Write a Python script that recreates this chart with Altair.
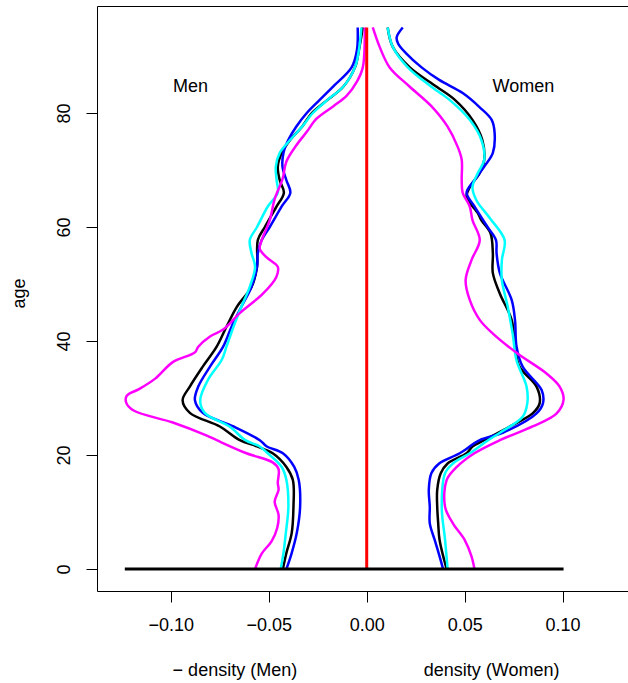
import altair as alt
import pandas as pd

# ---------------- data ----------------
men_black_age = [0, 2.8, 6.3, 10.9, 15.6, 17.9, 20.3, 21.5, 22.6, 25, 27.4, 29.6, 32, 35.5, 39, 42.5, 46, 49.5, 53, 57.7, 60, 63.6, 66, 68.2, 70.6, 73, 75.3, 77.6, 80, 82.3, 84.6, 88, 91, 95]
men_black_val = [-0.0428, -0.041, -0.0383, -0.0374, -0.0377, -0.041, -0.048, -0.056, -0.0648, -0.075, -0.0903, -0.094, -0.0903, -0.0837, -0.0766, -0.0716, -0.0663, -0.0588, -0.056, -0.0556, -0.052, -0.046, -0.0423, -0.0444, -0.0454, -0.0434, -0.039, -0.033, -0.028, -0.020, -0.012, -0.006, -0.004, -0.002]

men_blue_age = [0, 2.8, 6.3, 10.9, 15.6, 17.9, 20.3, 21.5, 22.6, 25, 27.4, 29.6, 32, 35.5, 39, 42.5, 46, 49.5, 53, 55.4, 57.7, 60, 63.6, 66, 68.2, 70.6, 73, 75.3, 77.6, 80, 82.3, 84.6, 88, 91, 95]
men_blue_val = [-0.041, -0.0383, -0.0357, -0.034, -0.0347, -0.037, -0.0428, -0.051, -0.0546, -0.068, -0.0837, -0.0877, -0.086, -0.080, -0.0733, -0.069, -0.064, -0.0588, -0.056, -0.0556, -0.0536, -0.0495, -0.0434, -0.039, -0.041, -0.043, -0.0425, -0.040, -0.036, -0.0306, -0.024, -0.0173, -0.0077, -0.005, -0.0046]

men_cyan_age = [0, 2.8, 6.3, 10.9, 15.6, 17.9, 20.3, 21.5, 22.6, 25, 27.4, 29.6, 33.2, 36.7, 39, 42.5, 46, 49.5, 53, 55.4, 57.7, 60, 63.6, 66, 68.2, 70.6, 73, 75.3, 77.6, 80, 82.3, 84.6, 88, 91, 95]
men_cyan_val = [-0.0439, -0.0425, -0.0413, -0.040, -0.041, -0.0434, -0.0505, -0.0546, -0.062, -0.070, -0.0827, -0.085, -0.081, -0.074, -0.0716, -0.068, -0.064, -0.0597, -0.057, -0.0588, -0.0597, -0.056, -0.0505, -0.0454, -0.046, -0.0464, -0.0444, -0.039, -0.033, -0.0275, -0.020, -0.012, -0.006, -0.004, -0.0027]

men_magenta_age = [0, 2.7, 4.9, 7.2, 9.5, 11.8, 13.9, 15.1, 17.5, 18.7, 20.3, 22.6, 23.4, 25.7, 27.8, 29.2, 30.4, 31.6, 33.4, 36.3, 38, 39, 40.8, 42, 44.9, 48.3, 51.2, 53, 54.7, 56.2, 57.7, 61.2, 64.9, 68.4, 71.5, 74.3, 76.7, 79, 81.2, 83, 85.5, 88, 95]
men_magenta_val = [-0.057, -0.0536, -0.0485, -0.0457, -0.045, -0.047, -0.045, -0.0454, -0.045, -0.048, -0.0614, -0.0766, -0.0816, -0.099, -0.119, -0.1228, -0.1225, -0.116, -0.108, -0.099, -0.0877, -0.086, -0.080, -0.0733, -0.0648, -0.053, -0.0462, -0.0454, -0.0512, -0.0546, -0.0536, -0.0495, -0.047, -0.043, -0.041, -0.036, -0.0306, -0.0256, -0.017, -0.0103, -0.005, -0.002, -0.001]

women_black_age = [0, 5.1, 8, 10.9, 13.9, 16.8, 18.5, 20.3, 21.5, 22.6, 25, 27.3, 29.1, 32, 35.5, 39, 43.7, 48.3, 51.9, 55.4, 58.9, 61.2, 62.4, 65.3, 67, 69.5, 71.8, 75.3, 78.8, 82.3, 84.6, 88, 91.6, 95]
women_black_val = [0.0408, 0.0372, 0.0365, 0.036, 0.036, 0.0378, 0.0413, 0.051, 0.054, 0.060, 0.073, 0.0847, 0.0883, 0.0867, 0.078, 0.0757, 0.074, 0.068, 0.0644, 0.0644, 0.0632, 0.0585, 0.0568, 0.051, 0.0526, 0.0577, 0.060, 0.059, 0.054, 0.045, 0.0357, 0.022, 0.0133, 0.0107]

women_blue_age = [0, 2.7, 5.1, 8, 10.9, 13.9, 16.8, 18.5, 20.3, 22.6, 23.9, 27.3, 29.1, 31.4, 35.5, 39, 43.7, 47.2, 51.9, 55.4, 57.7, 60, 63.6, 66, 68.2, 70.6, 73, 76.5, 78.8, 81, 83.5, 85.8, 88, 90.5, 92.2, 93.3, 95]
women_blue_val = [0.039, 0.0368, 0.0347, 0.0322, 0.0322, 0.0317, 0.033, 0.037, 0.0475, 0.0577, 0.0694, 0.0867, 0.090, 0.0893, 0.0796, 0.0765, 0.0757, 0.074, 0.068, 0.0663, 0.066, 0.0617, 0.055, 0.051, 0.055, 0.060, 0.0644, 0.0653, 0.0638, 0.0577, 0.049, 0.037, 0.028, 0.020, 0.016, 0.0153, 0.0184]

women_cyan_age = [0, 5.1, 10.9, 16.8, 18.5, 20.3, 22.6, 23.9, 26.7, 29.1, 32, 36.6, 41.3, 46, 50.7, 54.2, 57.7, 61.5, 64.7, 67, 69.5, 71.8, 75.3, 78.8, 82.3, 84.6, 88, 91.6, 95]
women_cyan_val = [0.0413, 0.040, 0.0383, 0.040, 0.044, 0.0526, 0.062, 0.068, 0.0796, 0.082, 0.0816, 0.0765, 0.0745, 0.072, 0.069, 0.069, 0.0704, 0.063, 0.056, 0.054, 0.0568, 0.060, 0.0585, 0.0526, 0.0423, 0.033, 0.021, 0.0133, 0.0107]

women_magenta_age = [0, 2.2, 5.1, 8, 10.9, 15.6, 17.9, 20.3, 22.6, 25, 27.3, 29.7, 32, 34.3, 37.8, 41.3, 43.7, 47.2, 50.7, 54.2, 57.7, 61.2, 63.6, 66, 68.2, 71.8, 74.1, 77.6, 81.2, 84.6, 88, 91.6, 95]
women_magenta_val = [0.055, 0.0535, 0.050, 0.044, 0.040, 0.0408, 0.046, 0.055, 0.068, 0.0847, 0.097, 0.1005, 0.0985, 0.0918, 0.077, 0.0644, 0.0577, 0.0526, 0.0505, 0.0535, 0.0577, 0.054, 0.0526, 0.049, 0.0485, 0.0485, 0.0464, 0.0413, 0.033, 0.022, 0.0117, 0.0066, 0.0031]

zero_line_x = [-0.1235, 0.1005]      # black horizontal segment at age 0
zero_line_age = [0, 0]
red_line_x = [0, 0]                  # red centre line
red_line_age = [0, 95]

label_text = ["Men", "Women"]
label_x = [-0.090, 0.080]
label_age = [83.7, 83.7]

xtitle_text = ["\u2212 density (Men)", "density (Women)"]
xtitle_x = [-0.0673, 0.0638]

x_ticks = [-0.10, -0.05, 0.0, 0.05, 0.10]
y_ticks = [0, 20, 40, 60, 80]

FONT = "Liberation Sans"
W, H = 531, 585
X_DOMAIN = [-0.1377, 0.1334]
Y_DOMAIN = [-3.86, 98.77]

# ---------------- build tables ----------------
SERIES = {
    "black": [("men", men_black_age, men_black_val), ("women", women_black_age, women_black_val)],
    "blue": [("men", men_blue_age, men_blue_val), ("women", women_blue_age, women_blue_val)],
    "cyan": [("men", men_cyan_age, men_cyan_val), ("women", women_cyan_age, women_cyan_val)],
    "magenta": [("men", men_magenta_age, men_magenta_val), ("women", women_magenta_age, women_magenta_val)],
}


def curve(color):
    rows = []
    for side, ages, vals in SERIES[color]:
        for a, v in zip(ages, vals):
            rows.append({"side": side, "age": a, "value": v})
    return pd.DataFrame(rows)


xscale = alt.Scale(domain=X_DOMAIN, nice=False, zero=False)
yscale = alt.Scale(domain=Y_DOMAIN, nice=False, zero=False)

x_enc = alt.X("value:Q", scale=xscale, title=None,
              axis=alt.Axis(values=x_ticks, format=".2f", orient="bottom"))
y_enc = alt.Y("age:Q", scale=yscale, title="age",
              axis=alt.Axis(values=y_ticks, format="d"))

layers = []
for i, col in enumerate(["black", "blue", "cyan", "magenta"]):
    xe = x_enc if i == 0 else alt.X("value:Q", title=None)
    ye = y_enc if i == 0 else alt.Y("age:Q", title="age")
    layers.append(
        alt.Chart(curve(col)).mark_line(color=col, strokeWidth=2.5, interpolate="catmull-rom")
        .encode(x=xe, y=ye, detail="side:N", order="age:Q")
    )

red_df = pd.DataFrame({"value": red_line_x, "age": red_line_age})
layers.append(
    alt.Chart(red_df).mark_line(color="#FF0000", strokeWidth=3)
    .encode(x=alt.X("value:Q", title=None), y=alt.Y("age:Q", title="age"), order="age:Q")
)

lab_df = pd.DataFrame({"value": label_x, "age": label_age, "text": label_text})
layers.append(
    alt.Chart(lab_df).mark_text(font=FONT, fontSize=18, color="black", align="center", baseline="alphabetic")
    .encode(x=alt.X("value:Q", title=None), y=alt.Y("age:Q", title="age"), text="text:N")
)

xt_df = pd.DataFrame({"value": xtitle_x, "text": xtitle_text})
layers.append(
    alt.Chart(xt_df).mark_text(font=FONT, fontSize=18, color="black", align="center", baseline="middle")
    .encode(x=alt.X("value:Q", title=None), y=alt.value(H + 80), text="text:N")
)

inner = alt.layer(*layers)

zero_df = pd.DataFrame({"value": zero_line_x[:1], "value2": zero_line_x[1:], "age": zero_line_age[:1]})
top_layer = (
    alt.Chart(zero_df).mark_rule(color="black", strokeWidth=3)
    .encode(
        x=alt.X("value:Q", title=None,
                axis=alt.Axis(orient="top", labels=False, ticks=False, domain=True, title=None)),
        x2="value2:Q",
        y=alt.Y("age:Q", title="age"),
    )
)

chart = (
    alt.layer(inner, top_layer)
    .resolve_axis(x="independent")
    .properties(
        width=W, height=H,
        autosize=alt.AutoSizeParams(type="none"),
        padding={"left": 97, "top": 6, "right": 0, "bottom": 92},
        background="white",
    )
    .configure_view(stroke=None)
    .configure_axis(
        grid=False, domainColor="black", domainWidth=1, tickColor="black", tickWidth=1,
        tickSize=11, labelFont=FONT, labelFontSize=18, labelColor="black",
        titleFont=FONT, titleFontSize=18, titleFontWeight="normal", titleColor="black",
        labelOverlap=False, labelFlush=False,
    )
    .configure_axisX(labelPadding=14, labelBaseline="top", labelAlign="center")
    .configure_axisY(labelAngle=270, labelAlign="center", labelBaseline="middle", labelPadding=22,
                     titleAngle=270, titleX=-73, titleY=287, titleAlign="center",
                     titleBaseline="alphabetic")
)

chart.save("out.html", embed_options={"renderer": "svg", "actions": False})
